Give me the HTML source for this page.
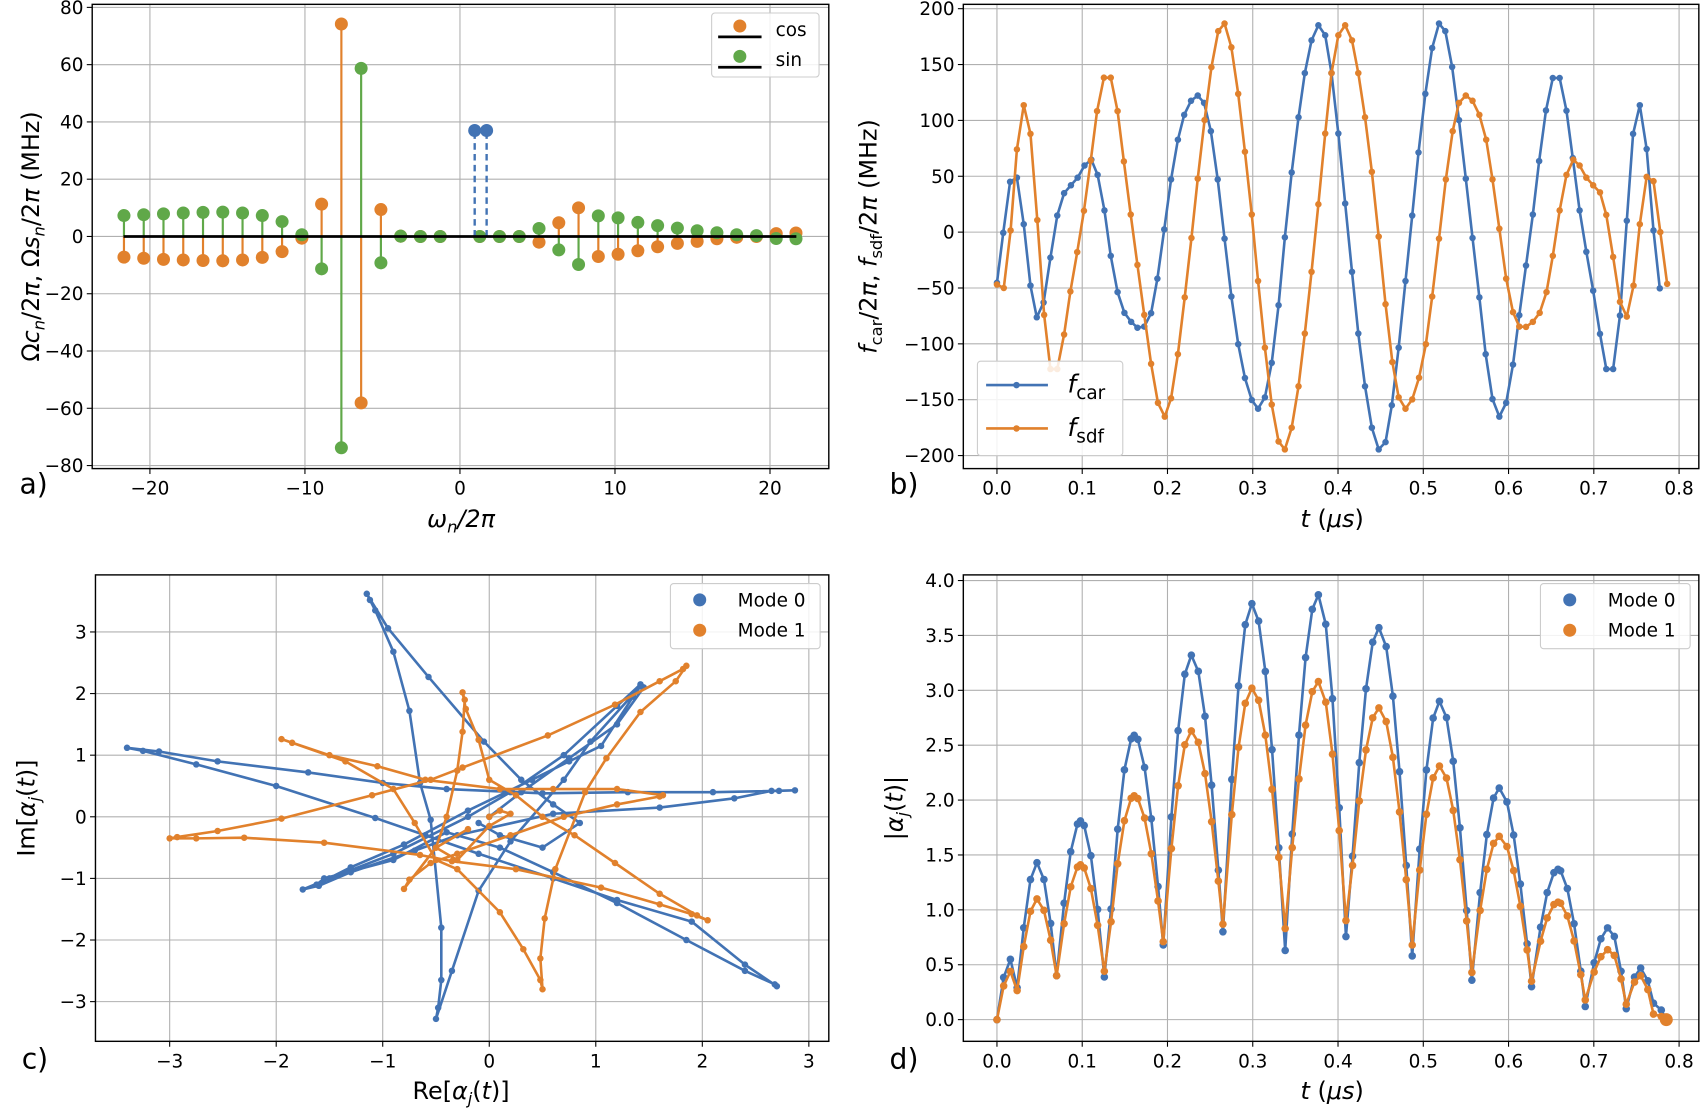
<!DOCTYPE html>
<html><head><meta charset="utf-8">
<style>
html,body{margin:0;padding:0;background:#fff;}
svg{display:block;}
text{font-family:"DejaVu Sans","Liberation Sans",sans-serif;fill:#000;}
</style></head>
<body>
<svg id="s" xmlns="http://www.w3.org/2000/svg" width="1701" height="1114" viewBox="0 0 1568 1027" preserveAspectRatio="none"></svg>
<script>
const B='#4273b4',O='#e1812c',G='#60a849',GR='#b0b0b0';
let h='';
function ax(x0,x1,y0,y1,xt,yt,fx,fy,xl,yl){
  xt.forEach(v=>{const x=fx(v);h+=`<line x1="${x}" y1="${y0}" x2="${x}" y2="${y1}" stroke="${GR}" stroke-width="1"/>`;
    h+=`<line x1="${x}" y1="${y1}" x2="${x}" y2="${y1+5}" stroke="#000" stroke-width="1"/>`;
    h+=`<text x="${x}" y="${y1+24}" font-size="17" text-anchor="middle">${xl(v)}</text>`;});
  yt.forEach(v=>{const y=fy(v);h+=`<line x1="${x0}" y1="${y}" x2="${x1}" y2="${y}" stroke="${GR}" stroke-width="1"/>`;
    h+=`<line x1="${x0-5}" y1="${y}" x2="${x0}" y2="${y}" stroke="#000" stroke-width="1"/>`;
    h+=`<text x="${x0-8}" y="${y+6}" font-size="17" text-anchor="end">${yl(v)}</text>`;});
}
function box(x0,x1,y0,y1){h+=`<rect x="${x0}" y="${y0}" width="${x1-x0}" height="${y1-y0}" fill="none" stroke="#000" stroke-width="1.3"/>`;}
const m=v=>(v<0?'\u2212':'')+Math.abs(v);
function line(pts,c,r,w){h+=`<polyline fill="none" stroke="${c}" stroke-width="${w||2.4}" stroke-linejoin="round" points="${pts.map(p=>p[0].toFixed(1)+','+p[1].toFixed(1)).join(' ')}"/>`;
  pts.forEach(p=>h+=`<circle cx="${p[0].toFixed(1)}" cy="${p[1].toFixed(1)}" r="${r}" fill="${c}"/>`);}

// ---------- panel a ----------
{const x0=85,x1=764,y0=4,y1=432;const fx=v=>424+v*14.29,fy=v=>218-v*2.64;
ax(x0,x1,y0,y1,[-20,-10,0,10,20],[80,60,40,20,0,-20,-40,-60,-80],fx,fy,m,m);
const c={'-17':-7.2,'-16':-7.6,'-15':-8,'-14':-8.2,'-13':-8.4,'-12':-8.5,'-11':-8.2,'-10':-7.3,'-9':-5.3,'-8':-0.6,'-7':11.3,'-6':74.2,'-5':-58.1,'-4':9.4,'-3':0.1,'-2':0,'-1':0,
'1':0,'2':0,'3':0,'4':-2,'5':4.8,'6':10,'7':-7,'8':-6.2,'9':-5,'10':-3.6,'11':-2.4,'12':-1.7,'13':-0.8,'14':-0.3,'15':0,'16':1,'17':1.2};
const s={'-17':7.3,'-16':7.6,'-15':7.9,'-14':8.2,'-13':8.4,'-12':8.5,'-11':8.2,'-10':7.3,'-9':5.2,'-8':0.6,'-7':-11.3,'-6':-73.8,'-5':58.7,'-4':-9.2,'-3':0.1,'-2':0,'-1':0,
'1':0,'2':0,'3':0,'4':2.8,'5':-4.7,'6':-9.8,'7':7.2,'8':6.5,'9':4.9,'10':3.8,'11':2.9,'12':2,'13':1.3,'14':0.6,'15':0.3,'16':-0.7,'17':-0.8};
for(const k in c){const x=fx(k*1.275);h+=`<line x1="${x}" y1="${fy(0)}" x2="${x}" y2="${fy(c[k])}" stroke="${O}" stroke-width="2"/><circle cx="${x}" cy="${fy(c[k])}" r="6" fill="${O}"/>`;}
for(const k in s){const x=fx(k*1.275);h+=`<line x1="${x}" y1="${fy(0)}" x2="${x}" y2="${fy(s[k])}" stroke="${G}" stroke-width="2"/><circle cx="${x}" cy="${fy(s[k])}" r="6" fill="${G}"/>`;}
[0.95,1.72].forEach(w=>{const x=fx(w);h+=`<line x1="${x}" y1="${fy(0)}" x2="${x}" y2="${fy(37)}" stroke="${B}" stroke-width="2.2" stroke-dasharray="6,4"/><circle cx="${x}" cy="${fy(37)}" r="6" fill="${B}"/>`;});
h+=`<line x1="${fx(-21.7)}" y1="${fy(0)}" x2="${fx(21.7)}" y2="${fy(0)}" stroke="#000" stroke-width="2.5"/>`;
box(x0,x1,y0,y1);
h+=`<rect x="656" y="12" width="99" height="59" rx="3" fill="#fff" fill-opacity="0.85" stroke="#ccc"/>`;
h+=`<line x1="662" y1="34" x2="702" y2="34" stroke="#000" stroke-width="2.5"/><circle cx="682" cy="24" r="6" fill="${O}"/><text x="715" y="33" font-size="17">cos</text>`;
h+=`<line x1="662" y1="62" x2="702" y2="62" stroke="#000" stroke-width="2.5"/><circle cx="682" cy="52" r="6" fill="${G}"/><text x="715" y="61" font-size="17">sin</text>`;
h+=`<text x="425" y="486" font-size="22" text-anchor="middle" font-style="italic">ω<tspan font-size="15" dy="5">n</tspan><tspan dy="-5">/2π</tspan></text>`;
h+=`<text transform="translate(36,218) rotate(-90)" font-size="22" text-anchor="middle"><tspan>Ω</tspan><tspan font-style="italic">c</tspan><tspan font-size="15" font-style="italic" dy="5">n</tspan><tspan dy="-5">/2</tspan><tspan font-style="italic">π</tspan><tspan>,  Ω</tspan><tspan font-style="italic">s</tspan><tspan font-size="15" font-style="italic" dy="5">n</tspan><tspan dy="-5">/2</tspan><tspan font-style="italic">π</tspan><tspan> (MHz)</tspan></text>`;
h+=`<text x="18" y="455" font-size="26">a)</text>`;
}

// ---------- panel b ----------
const bl=[[225,820],[237,675],[250,527],[263,515],[276,650],[289,828],[301,920],[314,877],[327,747],[340,625],[353,560],[366,537],[379,515],[392,480],[405,463],[417,507],[430,610],[442,742],[455,847],[468,907],[481,933],[493,950],[506,947],[519,908],[531,808],[544,665],[557,520],[570,405],[582,333],[595,292],[608,277],[620,298],[633,380],[646,520],[659,692],[672,860],[685,998],[698,1096],[711,1160],[723,1185],[736,1152],[749,1052],[762,885],[774,688],[787,500],[800,340],[812,212],[825,117],[838,73],[851,102],[863,212],[876,387],[889,590],[902,788],[914,967],[927,1120],[940,1240],[953,1303],[966,1282],[978,1175],[991,1008],[1004,815],[1017,625],[1029,442],[1042,272],[1055,139],[1068,68],[1080,90],[1093,194],[1106,348],[1119,518],[1132,690],[1145,862],[1157,1027],[1170,1157],[1183,1208],[1196,1168],[1209,1057],[1221,914],[1234,770],[1247,622],[1259,467],[1272,320],[1285,226],[1298,226],[1311,321],[1323,458],[1336,610],[1349,730],[1362,843],[1375,968],[1387,1070],[1400,1070],[1413,915],[1426,640],[1438,388],[1451,305],[1464,432],[1477,668],[1489,836]];
const ol=[[225,825],[238,835],[251,668],[263,433],[276,305],[289,388],[302,638],[315,913],[327,1070],[340,1070],[353,970],[365,845],[378,731],[391,611],[404,465],[416,322],[429,225],[442,225],[455,322],[467,468],[480,622],[493,768],[506,913],[519,1055],[532,1168],[545,1208],[557,1155],[570,1027],[583,862],[596,690],[608,518],[621,348],[634,195],[647,90],[659,68],[672,137],[685,272],[698,440],[711,622],[723,815],[736,1008],[749,1173],[762,1280],[774,1303],[787,1240],[800,1120],[812,967],[825,788],[838,592],[851,387],[863,212],[876,102],[889,73],[902,117],[914,212],[927,340],[940,498],[953,686],[966,882],[979,1050],[991,1152],[1004,1185],[1017,1158],[1030,1095],[1043,998],[1055,860],[1068,692],[1081,520],[1094,380],[1106,298],[1119,277],[1132,292],[1145,333],[1158,405],[1170,520],[1183,663],[1196,808],[1209,905],[1221,947],[1234,948],[1247,933],[1260,907],[1273,847],[1285,742],[1298,610],[1311,507],[1324,463],[1336,480],[1349,515],[1362,537],[1375,558],[1387,623],[1400,745],[1413,875],[1426,918],[1439,828],[1451,650],[1464,513],[1477,525],[1490,673],[1503,823]];
{const x0=888,x1=1566,y0=4,y1=432;const fx=t=>919+t*786,fy=v=>214-v*1.03;
ax(x0,x1,y0,y1,[0,.1,.2,.3,.4,.5,.6,.7,.8],[200,150,100,50,0,-50,-100,-150,-200],fx,fy,v=>v.toFixed(1),m);
const cv=p=>[fx((p[0]-225)/1626),fy(200-(p[1]-25)/3.24)];
line(bl.map(cv),B,3,2.4);line(ol.map(cv),O,3,2.4);
box(x0,x1,y0,y1);
h+=`<rect x="901" y="333" width="134" height="87" rx="3" fill="#fff" fill-opacity="0.85" stroke="#ccc"/>`;
h+=`<line x1="909" y1="355" x2="966" y2="355" stroke="${B}" stroke-width="2.4"/><circle cx="937" cy="355" r="3" fill="${B}"/>`;
h+=`<line x1="909" y1="395" x2="966" y2="395" stroke="${O}" stroke-width="2.4"/><circle cx="937" cy="395" r="3" fill="${O}"/>`;
h+=`<text x="984" y="362" font-size="23" font-style="italic">f<tspan font-size="17" font-style="normal" dy="6">car</tspan></text>`;
h+=`<text x="984" y="402" font-size="23" font-style="italic">f<tspan font-size="17" font-style="normal" dy="6">sdf</tspan></text>`;
h+=`<text x="1228" y="486" font-size="22" text-anchor="middle"><tspan font-style="italic">t</tspan> (<tspan font-style="italic">μs</tspan>)</text>`;
h+=`<text transform="translate(808,218) rotate(-90)" font-size="22" text-anchor="middle"><tspan font-style="italic">f</tspan><tspan font-size="15" dy="5">car</tspan><tspan dy="-5">/2</tspan><tspan font-style="italic">π</tspan><tspan>,  </tspan><tspan font-style="italic">f</tspan><tspan font-size="15" dy="5">sdf</tspan><tspan dy="-5">/2</tspan><tspan font-style="italic">π</tspan><tspan> (MHz)</tspan></text>`;
h+=`<text x="820" y="455" font-size="26">b)</text>`;
}

// ---------- panel c ----------
{const x0=88,x1=764,y0=530,y1=960;const fx=v=>451+v*98.2,fy=v=>753-v*56.8;
ax(x0,x1,y0,y1,[-3,-2,-1,0,1,2,3],[3,2,1,0,-1,-2,-3],fx,fy,m,m);
const bs=[[0,0],[0.3,0.4],[0.75,0.95],[1.2,1.5],[1.45,2.1],[1.42,2.15],[1.2,1.8],[0.7,1.0],[0.2,0.4],[-0.2,0],[-0.9,-0.6],[-1.5,-1.0],[-1.75,-1.18],[-1.6,-1.12],[-1.3,-0.9],[-0.7,-0.55],[-0.3,-0.3],[0.6,0.05],[1.6,0.15],[2.3,0.3],[2.65,0.42],[2.87,0.43],[2.72,0.42],[2.1,0.4],[1.3,0.4],[0.5,0.38],[-0.4,0.45],[-1.0,0.55],[-1.7,0.72],[-2.55,0.9],[-3.1,1.06],[-3.4,1.12],[-3.25,1.07],[-2.75,0.85],[-2.0,0.5],[-1.07,-0.02],[-0.6,-0.3],[-0.1,-0.6],[0.6,-1.0],[1.2,-1.35],[1.9,-1.7],[2.4,-2.4],[2.7,-2.75],[2.68,-2.72],[2.4,-2.5],[1.85,-2.0],[1.2,-1.4],[0.6,-0.9],[0.1,-0.5],[-0.4,-0.25],[-0.9,-0.7],[-1.55,-1.0],[-1.62,-1.1],[-1.3,-0.82],[-0.8,-0.45],[-0.2,0.1],[0.4,0.6],[0.75,0.9],[1.05,1.15],[1.35,1.95],[1.42,2.12],[0.95,1.22],[0.7,0.6],[0.2,-0.4],[-0.1,-1.2],[-0.35,-2.5],[-0.5,-3.28],[-0.48,-3.1],[-0.45,-2.65],[-0.45,-1.8],[-0.55,-0.05],[-0.65,0.55],[-0.75,1.72],[-0.9,2.68],[-1.07,3.35],[-1.12,3.52],[-1.15,3.62],[-0.95,3.06],[-0.57,2.27],[-0.05,1.22],[0.3,0.6],[0.6,0.2],[0.85,-0.1],[0.5,-0.5],[0.1,-0.3],[-0.1,-0.1]];
const os=[[-0.2,-0.2],[-0.5,-0.5],[-0.8,-1.17],[-0.75,-1.02],[-0.55,-0.75],[-0.3,-0.6],[0.2,-0.3],[0.7,0.0],[1.2,0.2],[1.6,0.33],[1.63,0.35],[1.2,0.45],[0.6,0.45],[0.1,0.45],[-0.6,0.6],[-1.05,0.82],[-1.5,1.0],[-1.95,1.26],[-1.85,1.2],[-1.35,0.9],[-0.9,0.45],[-0.7,-0.1],[-0.5,-0.7],[-0.3,-0.85],[0.1,-1.55],[0.32,-2.15],[0.48,-2.65],[0.5,-2.8],[0.48,-2.3],[0.52,-1.65],[0.62,-0.85],[0.9,0.4],[1.1,0.95],[1.42,1.7],[1.75,2.2],[1.85,2.45],[1.82,2.4],[1.6,2.2],[1.18,1.82],[0.55,1.32],[-0.25,0.8],[-0.55,0.6],[-1.1,0.35],[-1.95,-0.03],[-2.55,-0.23],[-2.93,-0.33],[-3.0,-0.35],[-2.75,-0.35],[-2.3,-0.34],[-1.55,-0.42],[-0.65,-0.62],[-0.35,-0.72],[0.25,-0.85],[1.05,-1.15],[1.6,-1.42],[1.9,-1.58],[2.05,-1.68],[1.95,-1.6],[1.6,-1.25],[1.18,-0.75],[0.8,-0.3],[0.5,0.0],[0.25,0.35],[0.0,0.6],[-0.1,1.25],[-0.22,1.75],[-0.25,2.02],[-0.23,1.9],[-0.25,1.38],[-0.3,0.75],[-0.4,0.0],[-0.5,-0.5],[-0.3,-0.7],[0.0,-0.15],[0.2,0.05],[0.1,0.1],[0.0,0.0]];
line(bs.map(p=>[fx(p[0]),fy(p[1])]),B,3,2.4);line(os.map(p=>[fx(p[0]),fy(p[1])]),O,3,2.4);
box(x0,x1,y0,y1);
h+=`<rect x="618" y="538" width="138" height="60" rx="3" fill="#fff" fill-opacity="0.85" stroke="#ccc"/>`;
h+=`<circle cx="645" cy="553" r="6" fill="${B}"/><text x="680" y="559" font-size="17">Mode 0</text>`;
h+=`<circle cx="645" cy="581" r="6" fill="${O}"/><text x="680" y="587" font-size="17">Mode 1</text>`;
h+=`<text x="425" y="1013" font-size="22" text-anchor="middle">Re[<tspan font-style="italic">α</tspan><tspan font-size="15" font-style="italic" dy="5">j</tspan><tspan dy="-5">(</tspan><tspan font-style="italic">t</tspan>)]</text>`;
h+=`<text transform="translate(32,745) rotate(-90)" font-size="22" text-anchor="middle">Im[<tspan font-style="italic">α</tspan><tspan font-size="15" font-style="italic" dy="5">j</tspan><tspan dy="-5">(</tspan><tspan font-style="italic">t</tspan>)]</text>`;
h+=`<text x="20" y="985" font-size="26">c)</text>`;
}

// ---------- panel d ----------
{const x0=888,x1=1566,y0=530,y1=960;const fx=t=>919+t*786,fy=v=>940-v*101.2;
ax(x0,x1,y0,y1,[0,.1,.2,.3,.4,.5,.6,.7,.8],[4,3.5,3,2.5,2,1.5,1,.5,0],fx,fy,v=>v.toFixed(1),v=>v.toFixed(1));
const E=[[0,0,0],[0.016,0.55,0.44],[0.024,0.27,0.25],[0.047,1.43,1.1],[0.07,0.4,0.4],[0.098,1.81,1.41],[0.127,0.3,0.38],[0.161,2.59,2.04],[0.195,0.68,0.71],[0.228,3.32,2.63],[0.265,0.8,0.87],[0.299,3.79,3.02],[0.338,0.63,0.83],[0.377,3.87,3.08],[0.41,0.64,0.82],[0.448,3.57,2.84],[0.487,0.58,0.68],[0.519,2.9,2.31],[0.557,0.36,0.43],[0.589,2.11,1.67],[0.627,0.3,0.35],[0.658,1.37,1.07],[0.69,0.12,0.18],[0.718,0.84,0.64],[0.738,0.1,0.14],[0.755,0.47,0.4],[0.77,0.15,0.05],[0.785,0,0]];
function val(t,j){for(let i=0;i<E.length-1;i++){const a=E[i],b=E[i+1];if(t>=a[0]&&t<=b[0]){const f=(t-a[0])/(b[0]-a[0]);const va=a[j],vb=b[j];
  if(vb>va)return va+(vb-va)*Math.sin(f*Math.PI/2);return vb+(va-vb)*Math.cos(f*Math.PI/2);}}return 0;}
let ts=[];for(let k=0;k<=100;k++){ts.push(Math.min(k*0.00787,0.785));}
E.forEach(e=>ts.push(e[0]));ts.sort((a,b)=>a-b);
ts=ts.filter((t,i)=>i==0||t-ts[i-1]>0.003);
const bp=ts.map(t=>[fx(t),fy(val(t,1))]),op=ts.map(t=>[fx(t),fy(val(t,2))]);
line(bp,B,3.5,2.4);line(op,O,3.5,2.4);
h+=`<circle cx="${fx(0.785)}" cy="${fy(0)}" r="6" fill="${O}"/>`;
box(x0,x1,y0,y1);
h+=`<rect x="1420" y="538" width="138" height="60" rx="3" fill="#fff" fill-opacity="0.85" stroke="#ccc"/>`;
h+=`<circle cx="1447" cy="553" r="6" fill="${B}"/><text x="1482" y="559" font-size="17">Mode 0</text>`;
h+=`<circle cx="1447" cy="581" r="6" fill="${O}"/><text x="1482" y="587" font-size="17">Mode 1</text>`;
h+=`<text x="1228" y="1013" font-size="22" text-anchor="middle"><tspan font-style="italic">t</tspan> (<tspan font-style="italic">μs</tspan>)</text>`;
h+=`<text transform="translate(832,745) rotate(-90)" font-size="22" text-anchor="middle">|<tspan font-style="italic">α</tspan><tspan font-size="15" font-style="italic" dy="5">j</tspan><tspan dy="-5">(</tspan><tspan font-style="italic">t</tspan>)|</text>`;
h+=`<text x="820" y="985" font-size="26">d)</text>`;
}
document.getElementById('s').innerHTML=h;
</script>
</body></html>
